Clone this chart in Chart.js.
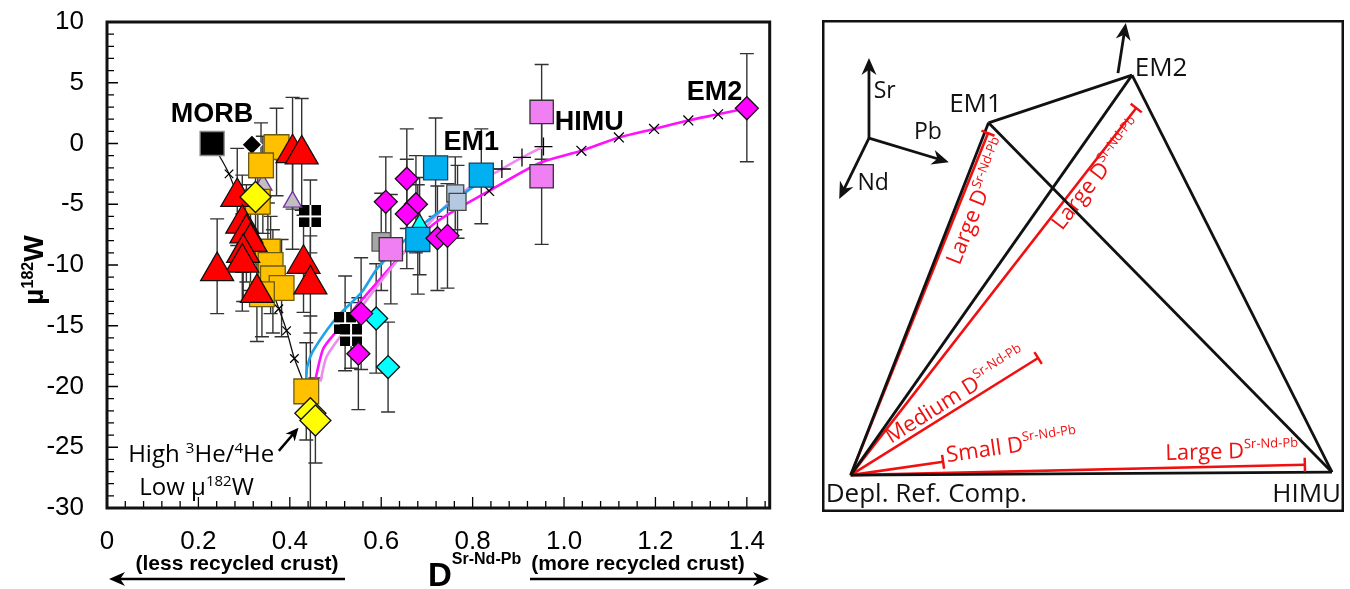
<!DOCTYPE html>
<html>
<head>
<meta charset="utf-8">
<script src="https://cdn.jsdelivr.net/npm/chart.js@4.4.0/dist/chart.umd.min.js"></script>
<style>
  html, body { margin: 0; padding: 0; background: #fff; }
  body { width: 1350px; height: 589px; position: relative; overflow: hidden; }
  #left { position: absolute; left: 0; top: 0; width: 790px; height: 589px; }
  #right { position: absolute; left: 822px; top: 20px; width: 522px; height: 492px; }
</style>
</head>
<body>
<div id="left"><canvas id="w182"></canvas></div>
<div id="right"><canvas id="tetra"></canvas></div>
<script>
// ---------- left panel data: [D(Sr-Nd-Pb), mu182W, error below, error above] ----------
const morb = [[0.23, 0.0, 0, 0]];
const blackDiamond = [[0.317, -0.1, 0, 0]];
const orangeSquares = [
  [0.371, -0.3, 4, 3.2], [0.337, -1.8, 4, 3.5], [0.33, -4.8, 3.5, 3.5],
  [0.352, -8.9, 4, 4], [0.358, -10.0, 4, 4], [0.363, -11.1, 4.5, 4],
  [0.382, -11.9, 4, 4], [0.339, -12.4, 3.5, 4], [0.436, -20.4, 4, 4]
];
const redTriangles = [
  [0.406, -0.8, 4.6, 4.6], [0.426, -0.9, 4.6, 4.6], [0.285, -4.4, 4, 4],
  [0.296, -6.6, 4, 4], [0.305, -7.4, 4, 4], [0.314, -8.1, 4, 4],
  [0.298, -9.0, 4, 4], [0.296, -9.8, 4, 4], [0.241, -10.5, 3.5, 4.3],
  [0.328, -12.3, 4, 4], [0.43, -9.9, 4, 4], [0.445, -11.6, 4, 4]
];
const grayTriangles = [[0.341, -3.4, 4, 4], [0.406, -4.8, 3.9, 3.9]];
const yellowDiamonds = [[0.325, -4.4, 3, 3], [0.445, -22.2, 8, 8], [0.456, -22.8, 3.5, 3.5]];
const blackGridSquares = [[0.445, -6.0, 3, 3], [0.521, -14.8, 3.9, 3.9], [0.534, -15.8, 2.7, 2.7]];
const magentaDiamonds = [
  [0.556, -14.0, 4.6, 4.6], [0.55, -17.3, 4.6, 4.6], [0.61, -4.8, 3.7, 3.7],
  [0.656, -2.9, 4.1, 4.1], [0.676, -5.0, 4, 4], [0.656, -5.8, 4.5, 4.5],
  [0.723, -7.8, 4.3, 4.3], [0.745, -7.6, 4.3, 4.3], [1.40, 2.9, 4.4, 4.5]
];
const cyanDiamonds = [[0.589, -14.4, 4.5, 4.5], [0.615, -18.4, 3.7, 3.7]];
const cyanTriangles = [[0.684, -6.8, 4, 4]];
const blueSquares = [[0.719, -2.0, 4, 4.1], [0.819, -2.6, 4, 3.8], [0.68, -7.9, 4.5, 4.5]];
const steelSquares = [[0.762, -4.1, 3, 3], [0.767, -4.8, 3, 3]];
const graySquares = [[0.60, -8.1, 4, 4]];
const violetSquares = [[0.621, -8.7, 4.5, 4.5], [0.951, 2.6, 3.9, 3.9], [0.951, -2.7, 5.6, 5.6]];

// mixing curves [D, mu182W]
const morbCurve = [[0.23, 0], [0.267, -2.5], [0.376, -13.6], [0.393, -15.4], [0.41, -17.7], [0.436, -20.2]];
const morbCurveMarks = [[0.267, -2.5], [0.376, -13.6], [0.393, -15.4], [0.41, -17.7]];
const em1Curve = [[0.436, -19.4], [0.438, -18.4], [0.449, -17.2], [0.482, -15.3], [0.508, -14.1],
  [0.558, -12.2], [0.593, -10.2], [0.68, -7.0], [0.81, -3.3]];
const em2Curve = [[0.456, -19.4], [0.473, -16.9], [0.499, -15.6], [0.543, -13.5], [0.571, -12.3],
  [0.651, -8.9], [0.723, -6.4], [0.836, -3.9], [0.947, -1.6], [1.038, -0.6], [1.12, 0.5],
  [1.197, 1.2], [1.272, 1.9], [1.337, 2.4], [1.40, 2.9]];
const em2CurveMarks = [[0.836, -3.9], [1.038, -0.6], [1.12, 0.5], [1.197, 1.2], [1.272, 1.9], [1.337, 2.4]];
const himuCurve = [[0.467, -19.6], [0.48, -17.6], [0.51, -15.9], [0.55, -13.8], [0.59, -11.8],
  [0.66, -8.5], [0.745, -5.0], [0.81, -3.2], [0.864, -2.1], [0.908, -1.15], [0.955, -0.25]];
const himuCurveMarks = [[0.864, -2.1], [0.908, -1.15], [0.955, -0.25]];

const xTicks = [0, 0.2, 0.4, 0.6, 0.8, 1.0, 1.2, 1.4];
const xTickLabels = ['0', '0.2', '0.4', '0.6', '0.8', '1.0', '1.2', '1.4'];

// ---------- right panel data (schematic units 0-100) ----------
const vertexNames = ['Depl. Ref. Comp.', 'HIMU', 'EM1', 'EM2'];
const vertexX = [5.5, 97.7, 31.9, 59.4];
const vertexY = [7.5, 8.1, 79.1, 88.8];
const edges = [[0, 2], [0, 3], [0, 1], [2, 3], [2, 1], [3, 1]];
const dSizes = ['Large', 'Large', 'Medium', 'Small', 'Large'];
const dEndX = [31.8, 60.2, 41.4, 23.2, 92.5];
const dEndY = [77.0, 82.1, 31.3, 10.2, 9.6];

const FONT = "'Liberation Sans', Arial, sans-serif";
const SANS = "'Open Sans', 'Noto Sans', sans-serif";

function gridSquare() {
  const c = document.createElement('canvas');
  c.width = 22; c.height = 22;
  const g = c.getContext('2d');
  g.fillStyle = '#000';
  g.fillRect(0, 0, 22, 22);
  g.fillStyle = '#fff';
  g.fillRect(10, 0, 2, 22);
  g.fillRect(0, 10, 22, 2);
  return c;
}

function pts(arr) {
  return arr.map(p => ({ x: p[0], y: p[1], lo: p[2], hi: p[3] }));
}
function xy(arr) {
  return arr.map(p => ({ x: p[0], y: p[1] }));
}
function marker(arr, style, r, bg, border, order, bw) {
  return { data: pts(arr), pointStyle: style, pointRadius: r, backgroundColor: bg,
    borderColor: border, pointBorderWidth: bw || 1.3, order: order, errorBars: true };
}
function curve(arr, color, w) {
  return { data: xy(arr), showLine: true, pointRadius: 0, borderColor: color, borderWidth: w,
    tension: 0.25, order: 20 };
}
function marks(arr, style, r) {
  return { data: xy(arr), pointStyle: style, pointRadius: r, borderColor: '#000',
    backgroundColor: '#000', pointBorderWidth: 1.3, order: 19 };
}

function drawRich(ctx, x, y, parts, align) {
  let w = 0;
  parts.forEach(p => { ctx.font = p[1]; w += ctx.measureText(p[0]).width; });
  let cx = align === 'center' ? x - w / 2 : align === 'right' ? x - w : x;
  ctx.textAlign = 'left';
  ctx.textBaseline = 'alphabetic';
  parts.forEach(p => {
    ctx.font = p[1];
    ctx.fillText(p[0], cx, y + (p[2] || 0));
    cx += ctx.measureText(p[0]).width;
  });
}

function arrow(ctx, x1, y1, x2, y2, headLen, headW, lw, color) {
  const a = Math.atan2(y2 - y1, x2 - x1);
  ctx.save();
  ctx.strokeStyle = color; ctx.fillStyle = color; ctx.lineWidth = lw;
  ctx.beginPath();
  ctx.moveTo(x1, y1);
  ctx.lineTo(x2 - Math.cos(a) * headLen * 0.6, y2 - Math.sin(a) * headLen * 0.6);
  ctx.stroke();
  ctx.beginPath();
  ctx.moveTo(x2, y2);
  ctx.lineTo(x2 - Math.cos(a) * headLen + Math.sin(a) * headW / 2, y2 - Math.sin(a) * headLen - Math.cos(a) * headW / 2);
  ctx.lineTo(x2 - Math.cos(a) * headLen * 0.7, y2 - Math.sin(a) * headLen * 0.7);
  ctx.lineTo(x2 - Math.cos(a) * headLen - Math.sin(a) * headW / 2, y2 - Math.sin(a) * headLen + Math.cos(a) * headW / 2);
  ctx.closePath();
  ctx.fill();
  ctx.restore();
}

const leftDecor = {
  id: 'leftDecor',
  beforeDatasetsDraw(chart) {
    const ctx = chart.ctx, xs = chart.scales.x, ys = chart.scales.y, a = chart.chartArea;
    ctx.save();
    ctx.beginPath();
    ctx.rect(a.left, a.top, a.right - a.left, a.bottom - a.top);
    ctx.clip();
    ctx.strokeStyle = '#333';
    ctx.lineWidth = 1.4;
    chart.data.datasets.forEach(ds => {
      if (!ds.errorBars) return;
      ds.data.forEach(p => {
        if (!p.lo && !p.hi) return;
        const x = xs.getPixelForValue(p.x);
        const yt = ys.getPixelForValue(p.y + p.hi);
        const yb = ys.getPixelForValue(p.y - p.lo);
        ctx.beginPath();
        ctx.moveTo(x, yt); ctx.lineTo(x, yb);
        ctx.moveTo(x - 7, yt); ctx.lineTo(x + 7, yt);
        ctx.moveTo(x - 7, yb); ctx.lineTo(x + 7, yb);
        ctx.stroke();
      });
    });
    ctx.restore();
  },
  afterDraw(chart) {
    const ctx = chart.ctx, xs = chart.scales.x, ys = chart.scales.y, a = chart.chartArea;
    ctx.save();
    // inner ticks
    ctx.strokeStyle = '#000';
    ctx.lineWidth = 1.3;
    ctx.beginPath();
    for (let v = -30; v <= 10; v += 1) {
      const y = ys.getPixelForValue(v);
      ctx.moveTo(a.left, y); ctx.lineTo(a.left + (v % 5 === 0 ? 11 : 7), y);
    }
    for (let k = 0; k * 0.04 <= 1.45; k++) {
      const x = xs.getPixelForValue(k * 0.04);
      ctx.moveTo(x, a.bottom); ctx.lineTo(x, a.bottom - (k % 5 === 0 ? 11 : 7));
    }
    ctx.stroke();
    // frame
    ctx.lineWidth = 3;
    ctx.strokeStyle = '#111';
    ctx.strokeRect(a.left, a.top, a.right - a.left, a.bottom - a.top);

    ctx.fillStyle = '#000';
    const B = 'bold 27px ' + FONT;
    ctx.textAlign = 'center'; ctx.textBaseline = 'middle'; ctx.font = B;
    ctx.fillText('MORB', xs.getPixelForValue(0.23), ys.getPixelForValue(2.4));
    ctx.fillText('EM1', xs.getPixelForValue(0.797), ys.getPixelForValue(0.1));
    ctx.fillText('HIMU', xs.getPixelForValue(1.055), ys.getPixelForValue(1.7));
    ctx.fillText('EM2', xs.getPixelForValue(1.329), ys.getPixelForValue(4.2));

    const R = '24px ' + SANS, S = '15px ' + SANS;
    drawRich(ctx, xs.getPixelForValue(0.206), ys.getPixelForValue(-25.5) + 9,
      [['High ', R], ['3', S, -9], ['He/', R], ['4', S, -9], ['He', R]], 'center');
    drawRich(ctx, xs.getPixelForValue(0.196), ys.getPixelForValue(-28.2) + 9,
      [['Low \u00b5', R], ['182', S, -9], ['W', R]], 'center');
    arrow(ctx, xs.getPixelForValue(0.376), ys.getPixelForValue(-25.3),
      xs.getPixelForValue(0.419), ys.getPixelForValue(-23.4), 13, 12, 2.5, '#000');

    // y title
    ctx.save();
    ctx.translate(33, 270);
    ctx.rotate(-Math.PI / 2);
    drawRich(ctx, 0, 10, [['\u00b5', 'bold 28px ' + FONT], ['182', 'bold 16px ' + FONT, -10], ['W', 'bold 28px ' + FONT]], 'center');
    ctx.restore();

    // x title and direction notes
    drawRich(ctx, 428, 586, [['D', 'bold 33px ' + FONT], ['Sr-Nd-Pb', 'bold 16px ' + FONT, -22]], 'left');
    ctx.font = 'bold 21px ' + FONT;
    ctx.textAlign = 'center'; ctx.textBaseline = 'alphabetic';
    ctx.fillText('(less recycled crust)', 237, 570);
    ctx.fillText('(more recycled crust)', 638, 570);
    arrow(ctx, 345, 579, 109, 579, 16, 14, 2.5, '#000');
    arrow(ctx, 530, 579, 769, 579, 16, 14, 2.5, '#000');
    ctx.restore();
  }
};

Chart.defaults.font.family = FONT;
Chart.defaults.color = '#000';

new Chart(document.getElementById('w182'), {
  type: 'scatter',
  data: {
    datasets: [
      curve(morbCurve, '#111', 1.3),
      marks(morbCurveMarks, 'crossRot', 6),
      curve(em1Curve, '#1ea3e6', 2.6),
      curve(himuCurve, '#ef8bf0', 2.6),
      curve(em2Curve, '#ff10ff', 2.6),
      marks(em2CurveMarks, 'crossRot', 7),
      marks(himuCurveMarks, 'cross', 9),
      marker(morb, 'rect', 17, '#000', '#888', 9),
      marker(blackDiamond, 'rectRot', 10, '#000', '#fff', 9),
      marker(violetSquares, 'rect', 16.5, '#ef7ff2', '#333', 9),
      marker(graySquares, 'rect', 13, '#a6a6a6', '#555', 9),
      marker(blueSquares, 'rect', 17, '#00b0f0', '#1d3f5e', 8),
      marker(steelSquares, 'rect', 12, '#b4c8e0', '#444', 8),
      marker(cyanTriangles, 'triangle', 12, '#00ffff', '#222', 9),
      marker(cyanDiamonds, 'rectRot', 11.5, '#00ffff', '#111', 8),
      marker(magentaDiamonds, 'rectRot', 11.5, '#ff00ff', '#111', 7),
      marker(blackGridSquares, gridSquare(), 10, '#000', '#000', 8),
      marker(orangeSquares, 'rect', 17.5, '#ffc000', '#6b5a10', 6),
      marker(grayTriangles, 'triangle', 10.5, '#c0c0c0', '#7030a0', 7),
      marker(redTriangles, 'triangle', 19, '#ff0000', '#111', 5),
      marker(yellowDiamonds, 'rectRot', 15.5, '#ffff00', '#111', 4)
    ]
  },
  options: {
    animation: false,
    responsive: true,
    maintainAspectRatio: false,
    layout: { padding: { top: 22, right: 14, left: 0, bottom: 0 } },
    plugins: { legend: { display: false }, tooltip: { enabled: false } },
    scales: {
      x: {
        type: 'linear', min: 0, max: 1.45,
        afterFit: s => { s.height = 81; s.paddingLeft = 0; s.paddingRight = 0; },
        grid: { display: false, drawTicks: false }, border: { display: false },
        ticks: {
          stepSize: 0.2, includeBounds: false, padding: 18, maxRotation: 0, autoSkip: false,
          color: '#000', font: { size: 26 },
          callback: v => {
            const i = xTicks.findIndex(t => Math.abs(t - v) < 1e-6);
            return i < 0 ? '' : xTickLabels[i];
          }
        }
      },
      y: {
        min: -30, max: 10,
        afterFit: s => { s.width = 107; s.paddingTop = 0; s.paddingBottom = 0; },
        grid: { display: false, drawTicks: false }, border: { display: false },
        ticks: { stepSize: 5, padding: 23, color: '#000', font: { size: 26 } }
      }
    }
  },
  plugins: [leftDecor]
});

// ---------- right panel ----------
const redLabelPos = [
  { t: 0.817, off: -16 }, { t: 0.836, off: -10 }, { t: 0.593, off: 12 },
  { t: 1.75, off: 6 }, { t: 0.84, off: 15 }
];

const tetraDecor = {
  id: 'tetraDecor',
  afterDraw(chart) {
    const ctx = chart.ctx, xs = chart.scales.x, ys = chart.scales.y;
    const px = v => xs.getPixelForValue(v), py = v => ys.getPixelForValue(v);
    ctx.save();
    ctx.strokeStyle = '#111';
    ctx.lineWidth = 2.5;
    ctx.strokeRect(1.25, 1.25, chart.width - 2.5, chart.height - 2.5);

    // caps on red lines
    const x0 = px(vertexX[0]), y0 = py(vertexY[0]);
    ctx.strokeStyle = '#f01010';
    ctx.lineWidth = 2.5;
    dEndX.forEach((ex, i) => {
      const x1 = px(ex), y1 = py(dEndY[i]);
      const a = Math.atan2(y1 - y0, x1 - x0);
      ctx.beginPath();
      ctx.moveTo(x1 - Math.sin(a) * 7, y1 + Math.cos(a) * 7);
      ctx.lineTo(x1 + Math.sin(a) * 7, y1 - Math.cos(a) * 7);
      ctx.stroke();
    });
    // red labels
    ctx.fillStyle = '#f01010';
    dEndX.forEach((ex, i) => {
      const x1 = px(ex), y1 = py(dEndY[i]);
      const a = Math.atan2(y1 - y0, x1 - x0);
      const L = redLabelPos[i];
      const cx = x0 + (x1 - x0) * L.t + Math.sin(a) * L.off;
      const cy = y0 + (y1 - y0) * L.t - Math.cos(a) * L.off;
      ctx.save();
      ctx.translate(cx, cy);
      ctx.rotate(a);
      drawRich(ctx, 0, 7, [[dSizes[i] + ' D', '22px ' + SANS], ['Sr-Nd-Pb', '13px ' + SANS, -10]], 'center');
      ctx.restore();
    });

    // vertex labels
    ctx.fillStyle = '#111';
    ctx.font = '26px ' + SANS;
    ctx.textBaseline = 'middle';
    ctx.textAlign = 'left';
    ctx.fillText(vertexNames[0], px(vertexX[0]) - 25, py(vertexY[0]) + 19);
    ctx.textAlign = 'right';
    ctx.fillText(vertexNames[1], px(vertexX[1]) + 9, py(vertexY[1]) + 22);
    ctx.textAlign = 'center';
    ctx.fillText(vertexNames[2], px(vertexX[2]) - 13, py(vertexY[2]) - 18);
    ctx.fillText(vertexNames[3], px(vertexX[3]) + 29, py(vertexY[3]) - 7);

    // arrow above EM2 and isotope axes
    arrow(ctx, px(56.7), py(89.2), px(58.2), py(99.4), 17, 15, 2.8, '#111');
    const ox = px(9.0), oy = py(76.0);
    arrow(ctx, ox, oy, px(9.0), py(92.3), 17, 15, 2.8, '#111');
    arrow(ctx, ox, oy, px(24.3), py(71.1), 17, 15, 2.8, '#111');
    arrow(ctx, ox, oy, px(3.3), py(63.6), 17, 15, 2.8, '#111');
    ctx.font = '23px ' + SANS;
    ctx.textAlign = 'center';
    ctx.fillText('Sr', px(12.0), py(85.4));
    ctx.fillText('Pb', px(20.3), py(77.2));
    ctx.fillText('Nd', px(9.8), py(66.7));
    ctx.restore();
  }
};

const tetraSets = edges.map(e => ({
  data: [{ x: vertexX[e[0]], y: vertexY[e[0]] }, { x: vertexX[e[1]], y: vertexY[e[1]] }],
  showLine: true, borderColor: '#111', borderWidth: 2.8, pointRadius: 0
}));
dEndX.forEach((ex, i) => tetraSets.push({
  data: [{ x: vertexX[0], y: vertexY[0] }, { x: ex, y: dEndY[i] }],
  showLine: true, borderColor: '#f01010', borderWidth: 2.6, pointRadius: 0
}));

new Chart(document.getElementById('tetra'), {
  type: 'scatter',
  data: { datasets: tetraSets },
  options: {
    animation: false,
    responsive: true,
    maintainAspectRatio: false,
    layout: { padding: 0 },
    plugins: { legend: { display: false }, tooltip: { enabled: false } },
    scales: { x: { display: false, min: 0, max: 100 }, y: { display: false, min: 0, max: 100 } }
  },
  plugins: [tetraDecor]
});
</script>
</body>
</html>
